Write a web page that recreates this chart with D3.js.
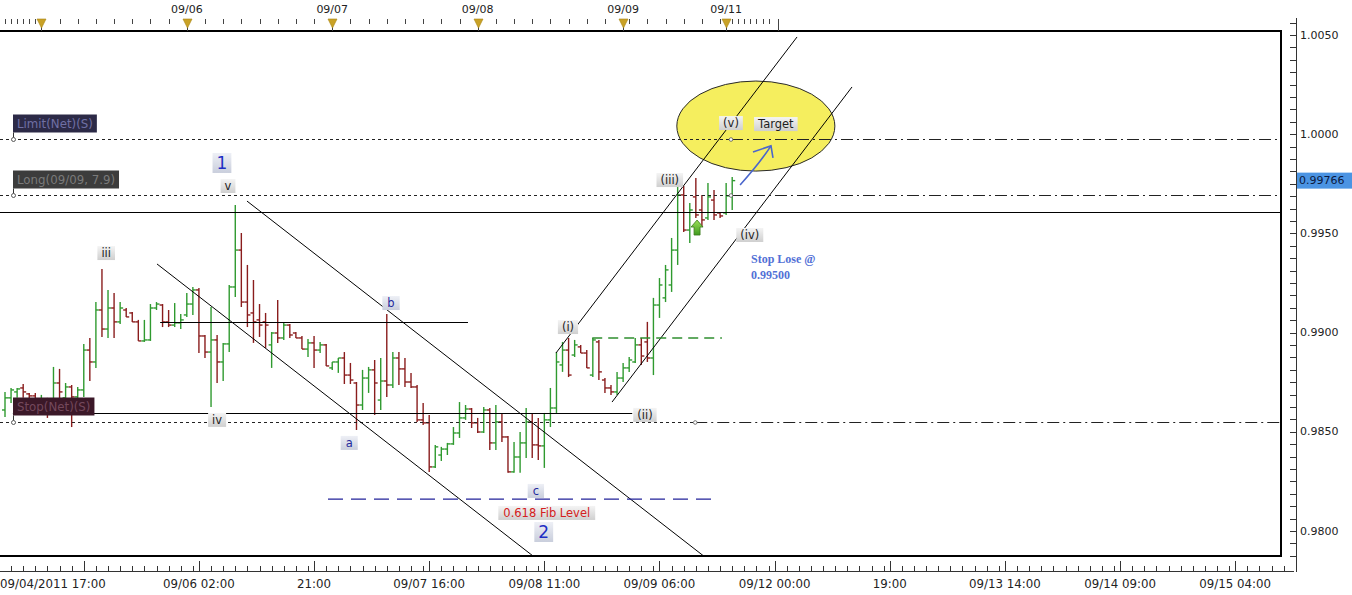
<!DOCTYPE html>
<html><head><meta charset="utf-8">
<script src="https://cdn.jsdelivr.net/npm/d3@7"></script>
<style>
html,body{margin:0;padding:0;background:#fff;}
svg{display:block;font-family:"DejaVu Sans",Verdana,sans-serif;}
</style></head><body>
<svg id="c" width="1352" height="595"></svg>
<script>
// ---------------- DATA ----------------
const opens = [0.98610,0.98671,0.98701,0.98721,0.98691,0.98681,0.98635,0.98660,0.98635,0.98746,
0.98671,0.98726,0.98676,0.98711,0.98912,0.98852,0.99114,0.99018,0.99124,0.99054,
0.99114,0.99099,0.99054,0.98958,0.98963,0.99124,0.99139,0.99054,0.99038,0.99049,
0.99089,0.99144,0.99215,0.98983,0.98902,0.98963,0.98852,0.98943,0.99230,0.99416,
0.99154,0.99099,0.99064,0.99054,0.98938,0.98998,0.98973,0.99038,0.98998,0.98973,
0.98917,0.98948,0.98912,0.98938,0.98822,0.98852,0.98872,0.98786,0.98746,0.98635,
0.98771,0.98812,0.98660,0.98756,0.98736,0.98872,0.98817,0.98751,0.98726,0.98560,
0.98545,0.98323,0.98383,0.98413,0.98439,0.98494,0.98570,0.98615,0.98545,0.98499,
0.98610,0.98444,0.98550,0.98474,0.98298,0.98373,0.98444,0.98550,0.98434,0.98429,
0.98560,0.98620,0.98837,0.98912,0.98887,0.98928,0.98897,0.98786,0.98953,0.98761,
0.98721,0.98701,0.98771,0.98822,0.98852,0.98938,0.98953,0.98872,0.99139,0.99175,
0.99240,0.99416,0.99694,0.99517,0.99684,0.99618,0.99578,0.99668,0.99603,0.99603,
0.99689];
const highs = [0.98701,0.98721,0.98721,0.98741,0.98696,0.98696,0.98686,0.98671,0.98827,0.98817,
0.98746,0.98736,0.98726,0.98943,0.98973,0.99154,0.99321,0.99215,0.99200,0.99154,
0.99124,0.99104,0.99064,0.99064,0.99144,0.99154,0.99144,0.99114,0.99149,0.99094,
0.99200,0.99230,0.99225,0.98988,0.99129,0.98988,0.98948,0.99240,0.99643,0.99502,
0.99341,0.99265,0.99144,0.99099,0.99003,0.99164,0.99054,0.99043,0.99003,0.98983,
0.98968,0.98983,0.98953,0.98943,0.98852,0.98872,0.98902,0.98847,0.98751,0.98812,
0.98827,0.98862,0.98872,0.99094,0.98902,0.98902,0.98872,0.98797,0.98736,0.98645,
0.98585,0.98434,0.98424,0.98444,0.98524,0.98650,0.98635,0.98620,0.98570,0.98625,
0.98620,0.98635,0.98595,0.98479,0.98449,0.98499,0.98620,0.98595,0.98570,0.98595,
0.98721,0.98902,0.98953,0.98973,0.98963,0.98938,0.98912,0.98973,0.98963,0.98771,
0.98736,0.98802,0.98847,0.98877,0.98973,0.98973,0.99054,0.99175,0.99275,0.99341,
0.99477,0.99744,0.99739,0.99653,0.99779,0.99694,0.99754,0.99719,0.99608,0.99754,
0.99784];
const lows = [0.98575,0.98645,0.98671,0.98671,0.98660,0.98610,0.98600,0.98570,0.98620,0.98660,
0.98666,0.98524,0.98650,0.98676,0.98756,0.98822,0.98978,0.98973,0.98973,0.99043,
0.99079,0.99054,0.98958,0.98953,0.98958,0.99114,0.99028,0.99028,0.99028,0.99018,
0.99079,0.99089,0.98897,0.98872,0.98625,0.98746,0.98756,0.98902,0.99180,0.99129,
0.99028,0.98948,0.98978,0.98923,0.98822,0.98948,0.98963,0.98973,0.98973,0.98917,
0.98877,0.98822,0.98897,0.98832,0.98812,0.98797,0.98741,0.98741,0.98509,0.98610,
0.98696,0.98585,0.98610,0.98676,0.98721,0.98736,0.98726,0.98721,0.98550,0.98534,
0.98298,0.98318,0.98353,0.98383,0.98434,0.98469,0.98560,0.98519,0.98494,0.98494,
0.98408,0.98408,0.98449,0.98293,0.98293,0.98293,0.98368,0.98368,0.98358,0.98318,
0.98524,0.98595,0.98802,0.98776,0.98877,0.98897,0.98822,0.98776,0.98761,0.98696,
0.98686,0.98686,0.98751,0.98802,0.98847,0.98837,0.98852,0.98786,0.99074,0.99154,
0.99205,0.99341,0.99507,0.99452,0.99578,0.99532,0.99568,0.99568,0.99578,0.99593,
0.99618];
const closes = [0.98671,0.98711,0.98716,0.98701,0.98681,0.98635,0.98660,0.98610,0.98746,0.98701,
0.98726,0.98676,0.98711,0.98912,0.98852,0.99114,0.99018,0.99124,0.99054,0.99124,
0.99079,0.99054,0.98958,0.98963,0.99124,0.99144,0.99054,0.99038,0.99049,0.99064,
0.99144,0.99215,0.98983,0.98902,0.98963,0.98852,0.98943,0.99230,0.99416,0.99154,
0.99089,0.99054,0.99038,0.99038,0.98998,0.98973,0.99038,0.98988,0.98973,0.98917,
0.98948,0.98912,0.98938,0.98832,0.98852,0.98872,0.98786,0.98761,0.98635,0.98771,
0.98812,0.98746,0.98756,0.98736,0.98872,0.98817,0.98751,0.98726,0.98560,0.98545,
0.98323,0.98424,0.98413,0.98439,0.98494,0.98570,0.98615,0.98545,0.98499,0.98610,
0.98444,0.98550,0.98474,0.98298,0.98373,0.98444,0.98550,0.98434,0.98429,0.98560,
0.98620,0.98852,0.98912,0.98786,0.98938,0.98897,0.98822,0.98963,0.98802,0.98721,
0.98701,0.98771,0.98822,0.98862,0.98938,0.98882,0.98872,0.99139,0.99240,0.99316,
0.99416,0.99694,0.99517,0.99618,0.99593,0.99568,0.99684,0.99593,0.99588,0.99689,
0.99766];

const lastPrice = 0.99766;
const priceTicks = [0.9800, 0.9850, 0.9900, 0.9950, 1.0000, 1.0050];
const priceMinorStep = 0.000625;
const startLabel = "09/04/2011 17:00";
const bottomTickBars = [13, 32, 51, 70, 89, 108, 127, 146, 165, 184, 203];
const bottomTickLabels = ["", "09/06 02:00", "21:00", "09/07 16:00", "09/08 11:00", "09/09 06:00",
  "09/12 00:00", "19:00", "09/13 14:00", "09/14 09:00", "09/15 04:00"];
const dayMarkerBars = [6, 30, 54, 78, 102, 119];
const dayMarkerLabels = ["", "09/06", "09/07", "09/08", "09/09", "09/11"];

// order levels
const orderNames = ["Limit(Net)(S)", "Long(09/09, 7.9)", "Stop(Net)(S)"];
const orderPrices = [0.99975, 0.99694, 0.98550];
const orderSplitBars = [119.8, 119.8, 113.9];

// solid horizontal lines [price, fromBar, toBar]
const hLinePrices = [0.99608, 0.99054, 0.98595];
const hLineFrom = [-0.825, 25.6, 1.3];
const hLineTo = [210.56, 76.4, 103.5];

// trend channel lines [bar1, price1, bar2, price2]
const trendBar1 = [39.93, 25.08, 90.92, 100.17];
const trendPrice1 = [0.99663, 0.99346, 0.98897, 0.98650];
const trendBar2 = [115.5, 87.13, 130.7, 139.77];
const trendPrice2 = [0.97869, 0.97874, 1.00490, 1.00238];

const greenDashPrice = 0.98973, greenDashFrom = 96.9, greenDashTo = 118.3;
const fibPrice = 0.98161, fibFrom = 53.3, fibTo = 117.3;

// target zone ellipse
const zoneBar = 123.9, zonePrice = 1.00041, zoneBarRadius = 13.04, zonePriceRadius = 0.00227;

// wave labels
const grayText = ["(v)", "Target", "(iii)", "(iv)", "(i)", "(ii)", "iii", "v", "iv"];
const grayBar = [119.8, 127.2, 109.7, 122.9, 92.9, 105.6, 16.7, 36.8, 35.0];
const grayPrice = [1.00056, 1.00051, 0.99769, 0.99492, 0.99028, 0.98585, 0.99401, 0.99739, 0.98560];
const letterText = ["a", "b", "c"];
const letterBar = [56.8, 63.7, 87.6];
const letterPrice = [0.98444, 0.99149, 0.98202];
const bigText = ["1", "2"];
const bigBar = [35.8, 88.9];
const bigPrice = [0.99855, 0.97995];
const fibText = "0.618 Fib Level", fibLabelBar = 89.4, fibLabelPrice = 0.98091;
const stopNoteText = ["Stop Lose @", "0.99500"];
const stopNoteBar = 123.1;
const stopNotePrice = [0.99371, 0.99290];
const entryArrowBar = 114.2, entryArrowPrice = 0.99527;
const targetArrowFrom = [121.3, 0.99744], targetArrowTo = [126.4, 0.99941];

// ---------------- CHART ----------------
const svg = d3.select('#c');
const PL = 0, PR = 1281, PT = 31, PB = 556;
const x = d3.scaleLinear().domain([-0.825, 210.56]).range([PL, PR]);
const y = d3.scaleLinear().domain([0.98, 1.005]).range([531, 35]);

const defs = svg.append('defs');
defs.append('clipPath').attr('id', 'plotClip').append('rect')
  .attr('x', PL).attr('y', PT).attr('width', PR - PL).attr('height', PB - PT);
const gg = defs.append('linearGradient').attr('id', 'gGray').attr('x1', 0).attr('y1', 0).attr('x2', 0).attr('y2', 1);
gg.append('stop').attr('offset', 0).attr('stop-color', '#f4f4f4');
gg.append('stop').attr('offset', 1).attr('stop-color', '#cfcfcf');
const gb = defs.append('linearGradient').attr('id', 'gBlue').attr('x1', 0).attr('y1', 0).attr('x2', 0).attr('y2', 1);
gb.append('stop').attr('offset', 0).attr('stop-color', '#eef0f6');
gb.append('stop').attr('offset', 1).attr('stop-color', '#c9cedc');
const ga = defs.append('linearGradient').attr('id', 'gArrow').attr('x1', 0).attr('y1', 0).attr('x2', 0).attr('y2', 1);
ga.append('stop').attr('offset', 0).attr('stop-color', '#9be05a');
ga.append('stop').attr('offset', 1).attr('stop-color', '#3f9a1e');

svg.append('rect').attr('width', 1352).attr('height', 595).attr('fill', '#fff');

const plot = svg.append('g').attr('clip-path', 'url(#plotClip)');

// target ellipse
plot.append('ellipse')
  .attr('cx', x(zoneBar)).attr('cy', y(zonePrice))
  .attr('rx', x(zoneBar + zoneBarRadius) - x(zoneBar))
  .attr('ry', y(zonePrice - zonePriceRadius) - y(zonePrice))
  .attr('fill', '#f5ee5e').attr('stroke', '#2a2a2a').attr('stroke-width', 1);

// bars
const bars = opens.map((o, i) => ({i, o, h: highs[i], l: lows[i], c: closes[i]}));
const gBars = plot.append('g');
const bg = gBars.selectAll('g').data(bars).join('g')
  .attr('stroke', d => d.c >= d.o ? '#2f9a2f' : '#8a1d1d')
  .attr('stroke-width', 1.4);
bg.append('line').attr('x1', d => x(d.i)).attr('x2', d => x(d.i))
  .attr('y1', d => y(d.h)).attr('y2', d => y(d.l));
bg.append('line').attr('x1', d => x(d.i) - 3).attr('x2', d => x(d.i))
  .attr('y1', d => y(d.o)).attr('y2', d => y(d.o));
bg.append('line').attr('x1', d => x(d.i)).attr('x2', d => x(d.i) + 3)
  .attr('y1', d => y(d.c)).attr('y2', d => y(d.c));

// solid horizontal lines
hLinePrices.forEach((p, k) => {
  plot.append('line').attr('x1', x(hLineFrom[k])).attr('x2', x(hLineTo[k]))
    .attr('y1', Math.round(y(p)) + 0.5).attr('y2', Math.round(y(p)) + 0.5)
    .attr('stroke', '#000').attr('stroke-width', 1.2);
});

// order lines
orderPrices.forEach((p, k) => {
  const yy = Math.round(y(p)) + 0.5;
  plot.append('line').attr('x1', x(-0.825)).attr('x2', x(orderSplitBars[k]))
    .attr('y1', yy).attr('y2', yy).attr('stroke', '#222').attr('stroke-width', 1)
    .attr('stroke-dasharray', '3,3');
  plot.append('line').attr('x1', x(orderSplitBars[k])).attr('x2', x(210.56))
    .attr('y1', yy).attr('y2', yy).attr('stroke', '#222').attr('stroke-width', 1)
    .attr('stroke-dasharray', '12,4,2,4');
  plot.append('circle').attr('cx', x(orderSplitBars[k])).attr('cy', yy).attr('r', 1.8)
    .attr('fill', '#fff').attr('stroke', '#555').attr('stroke-width', 0.8);
});

// trend lines
trendBar1.forEach((b, k) => {
  plot.append('line').attr('x1', x(b)).attr('y1', y(trendPrice1[k]))
    .attr('x2', x(trendBar2[k])).attr('y2', y(trendPrice2[k]))
    .attr('stroke', '#000').attr('stroke-width', 1);
});

// green dashed & fib line
plot.append('line').attr('x1', x(greenDashFrom)).attr('x2', x(greenDashTo))
  .attr('y1', y(greenDashPrice)).attr('y2', y(greenDashPrice))
  .attr('stroke', '#2f8f2f').attr('stroke-width', 1.4).attr('stroke-dasharray', '10,6');
plot.append('line').attr('x1', x(fibFrom)).attr('x2', x(fibTo))
  .attr('y1', y(fibPrice)).attr('y2', y(fibPrice))
  .attr('stroke', '#23239a').attr('stroke-width', 1.3).attr('stroke-dasharray', '15,8');

// tag helper
function tag(parent, text, cx, cy, o) {
  const g = parent.append('g');
  const r = g.append('rect');
  const t = g.append('text').text(text).attr('x', cx).attr('y', cy)
    .attr('text-anchor', 'middle').attr('dominant-baseline', 'central')
    .attr('font-size', o.fs || 11.5).attr('fill', o.color || '#222')
    .attr('font-family', o.ff || null).attr('font-weight', o.fw || null);
  const w = t.node().getComputedTextLength();
  const h = o.h || 14;
  r.attr('x', cx - w / 2 - (o.px || 4)).attr('y', cy - h / 2)
    .attr('width', w + 2 * (o.px || 4)).attr('height', h)
    .attr('fill', o.fill || 'url(#gGray)');
  return g;
}

const labels = svg.append('g');
grayText.forEach((t, k) => tag(labels, t, x(grayBar[k]), y(grayPrice[k]), {color: '#1e1e1e'}));
letterText.forEach((t, k) => tag(labels, t, x(letterBar[k]), y(letterPrice[k]),
  {color: '#1f2a9c', fill: 'url(#gBlue)', px: 5}));
bigText.forEach((t, k) => tag(labels, t, x(bigBar[k]), y(bigPrice[k]),
  {color: '#1f2fc4', fill: 'url(#gBlue)', fs: 17, h: 20, px: 4}));
tag(labels, fibText, x(fibLabelBar), y(fibLabelPrice), {color: '#d42020', px: 5});

// stop note
stopNoteText.forEach((t, k) => {
  labels.append('text').text(t).attr('x', x(stopNoteBar)).attr('y', y(stopNotePrice[k]))
    .attr('dominant-baseline', 'central').attr('font-family', '"Liberation Serif",serif')
    .attr('font-weight', 'bold').attr('font-size', 12).attr('fill', '#5270d6');
});

// entry arrow (green up)
{
  const ax = x(entryArrowBar), ay = y(entryArrowPrice);
  const pts = [[0,-8],[6,-1],[3,-1],[3,7],[-3,7],[-3,-1],[-6,-1]].map(p => [ax + p[0], ay + p[1]]);
  labels.append('path').attr('d', d3.line()(pts) + 'Z')
    .attr('fill', 'url(#gArrow)').attr('stroke', '#3a7a1a').attr('stroke-width', 0.8);
}
// target arrow (blue)
{
  const x0 = x(targetArrowFrom[0]), y0 = y(targetArrowFrom[1]);
  const x1 = x(targetArrowTo[0]), y1 = y(targetArrowTo[1]);
  labels.append('path')
    .attr('d', `M${x0},${y0} Q${(x0 + x1) / 2 + 4},${(y0 + y1) / 2 - 2} ${x1},${y1}`)
    .attr('fill', 'none').attr('stroke', '#4a66cc').attr('stroke-width', 1.6);
  labels.append('path')
    .attr('d', `M${x1 - 18},${y1 + 6} L${x1},${y1} L${x1 + 2},${y1 + 12}`)
    .attr('fill', 'none').attr('stroke', '#4a66cc').attr('stroke-width', 1.6);
}

// order labels
const orderBg = ['#2c2a47', '#3c3c3c', '#3b1828'];
const orderFg = ['#7070a4', '#7a7a7a', '#74485c'];
orderNames.forEach((n, k) => {
  const yy = Math.round(y(orderPrices[k])) + 0.5;
  const g = svg.append('g');
  const r = g.append('rect');
  const t = g.append('text').text(n).attr('x', 17).attr('y', yy - 16)
    .attr('dominant-baseline', 'central').attr('font-size', 11.8).attr('fill', orderFg[k]);
  const w = t.node().getComputedTextLength();
  r.attr('x', 13).attr('y', yy - 25).attr('width', w + 8).attr('height', 18).attr('fill', orderBg[k]);
  g.append('line').attr('x1', 13.5).attr('x2', 13.5).attr('y1', yy - 7).attr('y2', yy - 2)
    .attr('stroke', '#333');
  g.append('circle').attr('cx', 13.5).attr('cy', yy).attr('r', 2)
    .attr('fill', '#fff').attr('stroke', '#333').attr('stroke-width', 0.8);
});

// frame
svg.append('line').attr('x1', 0).attr('x2', PR + 1).attr('y1', PT).attr('y2', PT)
  .attr('stroke', '#000').attr('stroke-width', 2);
svg.append('line').attr('x1', PR).attr('x2', PR).attr('y1', PT).attr('y2', PB + 1)
  .attr('stroke', '#000').attr('stroke-width', 2);
svg.append('line').attr('x1', 0).attr('x2', PR + 1).attr('y1', PB).attr('y2', PB)
  .attr('stroke', '#000').attr('stroke-width', 2);

// right price axis
const AX = 1296;
svg.append('line').attr('x1', AX + 0.5).attr('x2', AX + 0.5).attr('y1', 18).attr('y2', 572)
  .attr('stroke', '#333');
const minors = d3.range(0.97875, 1.0058, priceMinorStep);
svg.append('g').selectAll('line').data(minors).join('line')
  .attr('x1', AX - 6).attr('x2', AX).attr('y1', d => Math.round(y(d)) + 0.5).attr('y2', d => Math.round(y(d)) + 0.5)
  .attr('stroke', '#333');
svg.append('g').selectAll('text').data(priceTicks).join('text')
  .attr('x', AX + 4).attr('y', d => y(d)).attr('dominant-baseline', 'central')
  .attr('font-size', 11).attr('fill', '#222').text(d => d.toFixed(4));
// last price marker
{
  const yy = y(lastPrice);
  svg.append('rect').attr('x', AX + 1).attr('y', yy - 8).attr('width', 55).attr('height', 16)
    .attr('fill', '#4b94e3');
  svg.append('text').attr('x', AX + 3).attr('y', yy).attr('dominant-baseline', 'central')
    .attr('font-size', 11).attr('fill', '#0c1a40').text(lastPrice.toFixed(5));
}

// bottom time axis
const BY = 571;
svg.append('line').attr('x1', 0).attr('x2', 1294).attr('y1', BY + 0.5).attr('y2', BY + 0.5).attr('stroke', '#333');
const bMinor = [];
bottomTickBars.forEach(b => { for (let j = 2; j < 19; j += 2) bMinor.push(b + j); });
for (let j = 2; 13 - j > -0.8; j += 2) bMinor.push(13 - j);
svg.append('g').selectAll('line').data(bMinor.filter(b => x(b) < 1292)).join('line')
  .attr('x1', d => Math.round(x(d)) + 0.5).attr('x2', d => Math.round(x(d)) + 0.5)
  .attr('y1', BY - 5).attr('y2', BY).attr('stroke', '#333');
svg.append('g').selectAll('line').data(bottomTickBars).join('line')
  .attr('x1', d => Math.round(x(d)) + 0.5).attr('x2', d => Math.round(x(d)) + 0.5)
  .attr('y1', BY - 10).attr('y2', BY).attr('stroke', '#333');
svg.append('g').selectAll('text').data(bottomTickBars).join('text')
  .attr('x', d => x(d)).attr('y', 588).attr('text-anchor', 'middle')
  .attr('font-size', 11.8).attr('fill', '#222').text((d, k) => bottomTickLabels[k]);
svg.append('text').attr('x', 0).attr('y', 588).attr('font-size', 11.8).attr('fill', '#222').text(startLabel);

// top day axis
const TY = 19;
const tMinor = [];
for (let b = 0; b < dayMarkerBars[0]; b++) tMinor.push(b);
for (let k = 0; k < 4; k++) for (let b = dayMarkerBars[k] + 3; b < dayMarkerBars[k + 1]; b += 3) tMinor.push(b);
for (let b = 103; b < 119; b += 3) tMinor.push(b);
for (let b = 120; b < 127; b++) tMinor.push(b);
svg.append('g').selectAll('line').data(tMinor).join('line')
  .attr('x1', d => Math.round(x(d)) + 0.5).attr('x2', d => Math.round(x(d)) + 0.5)
  .attr('y1', TY).attr('y2', TY + 5).attr('stroke', '#444');
svg.append('line').attr('x1', Math.round(x(127.5)) + 0.5).attr('x2', Math.round(x(127.5)) + 0.5)
  .attr('y1', TY).attr('y2', PT).attr('stroke', '#444');
const dm = svg.append('g').selectAll('g').data(dayMarkerBars).join('g');
dm.append('line').attr('x1', d => Math.round(x(d)) + 0.5).attr('x2', d => Math.round(x(d)) + 0.5)
  .attr('y1', TY).attr('y2', PT).attr('stroke', '#444');
dm.append('path').attr('d', d => { const cx = Math.round(x(d)) + 0.5; return `M${cx - 4.5},${TY} L${cx + 4.5},${TY} L${cx},${TY + 9} Z`; })
  .attr('fill', '#c9a227').attr('stroke', '#a88410').attr('stroke-width', 0.6);
dm.append('text').attr('x', d => x(d)).attr('y', 9).attr('text-anchor', 'middle')
  .attr('dominant-baseline', 'central').attr('font-size', 11).attr('fill', '#222')
  .text((d, k) => dayMarkerLabels[k]);
</script>
</body></html>
